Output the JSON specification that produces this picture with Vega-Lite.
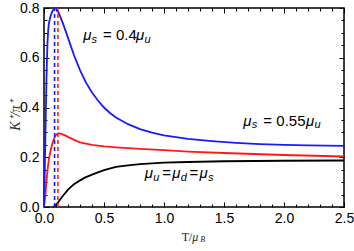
{
  "$schema": "https://vega.github.io/schema/vega-lite/v6.json",
  "width": 300,
  "height": 199,
  "autosize": "none",
  "padding": {"left": 44, "top": 8, "right": 10, "bottom": 44},
  "config": {
    "view": {"stroke": "black", "strokeWidth": 1.5},
    "axis": {
      "domain": false,
      "grid": false,
      "tickColor": "black",
      "tickWidth": 1,
      "labelFont": "Liberation Sans",
      "labelFontSize": 14,
      "labelColor": "black",
      "labelOverlap": false,
      "labelFlush": false
    }
  },
  "datasets": {
    "curves": [
      {"s": "eq", "T": 0.075, "v": 0.0}, {"s": "eq", "T": 0.09, "v": 0.004}, {"s": "eq", "T": 0.1, "v": 0.009},
      {"s": "eq", "T": 0.12, "v": 0.02}, {"s": "eq", "T": 0.15, "v": 0.04}, {"s": "eq", "T": 0.2, "v": 0.07},
      {"s": "eq", "T": 0.25, "v": 0.092}, {"s": "eq", "T": 0.3, "v": 0.107}, {"s": "eq", "T": 0.35, "v": 0.12},
      {"s": "eq", "T": 0.4, "v": 0.13}, {"s": "eq", "T": 0.5, "v": 0.148}, {"s": "eq", "T": 0.6, "v": 0.161},
      {"s": "eq", "T": 0.7, "v": 0.167}, {"s": "eq", "T": 0.8, "v": 0.172}, {"s": "eq", "T": 0.9, "v": 0.175},
      {"s": "eq", "T": 1.0, "v": 0.178}, {"s": "eq", "T": 1.2, "v": 0.181}, {"s": "eq", "T": 1.5, "v": 0.184},
      {"s": "eq", "T": 2.0, "v": 0.186}, {"s": "eq", "T": 2.5, "v": 0.187},

      {"s": "0.55", "T": 0.0, "v": 0.0}, {"s": "0.55", "T": 0.01, "v": 0.04}, {"s": "0.55", "T": 0.02, "v": 0.1},
      {"s": "0.55", "T": 0.03, "v": 0.15}, {"s": "0.55", "T": 0.04, "v": 0.19}, {"s": "0.55", "T": 0.05, "v": 0.215},
      {"s": "0.55", "T": 0.06, "v": 0.237}, {"s": "0.55", "T": 0.07, "v": 0.256}, {"s": "0.55", "T": 0.08, "v": 0.27},
      {"s": "0.55", "T": 0.09, "v": 0.281}, {"s": "0.55", "T": 0.1, "v": 0.289}, {"s": "0.55", "T": 0.11, "v": 0.294},
      {"s": "0.55", "T": 0.12, "v": 0.296}, {"s": "0.55", "T": 0.13, "v": 0.296}, {"s": "0.55", "T": 0.15, "v": 0.293},
      {"s": "0.55", "T": 0.18, "v": 0.287}, {"s": "0.55", "T": 0.2, "v": 0.282}, {"s": "0.55", "T": 0.25, "v": 0.27},
      {"s": "0.55", "T": 0.3, "v": 0.26}, {"s": "0.55", "T": 0.4, "v": 0.25}, {"s": "0.55", "T": 0.5, "v": 0.244},
      {"s": "0.55", "T": 0.6, "v": 0.24}, {"s": "0.55", "T": 0.8, "v": 0.234}, {"s": "0.55", "T": 1.0, "v": 0.229},
      {"s": "0.55", "T": 1.2, "v": 0.223}, {"s": "0.55", "T": 1.5, "v": 0.217}, {"s": "0.55", "T": 2.0, "v": 0.209},
      {"s": "0.55", "T": 2.5, "v": 0.203},

      {"s": "0.4", "T": 0.0, "v": 0.0}, {"s": "0.4", "T": 0.005, "v": 0.1}, {"s": "0.4", "T": 0.01, "v": 0.24},
      {"s": "0.4", "T": 0.015, "v": 0.38}, {"s": "0.4", "T": 0.02, "v": 0.5}, {"s": "0.4", "T": 0.025, "v": 0.6},
      {"s": "0.4", "T": 0.03, "v": 0.67}, {"s": "0.4", "T": 0.035, "v": 0.71}, {"s": "0.4", "T": 0.04, "v": 0.735},
      {"s": "0.4", "T": 0.05, "v": 0.76}, {"s": "0.4", "T": 0.06, "v": 0.775}, {"s": "0.4", "T": 0.07, "v": 0.787},
      {"s": "0.4", "T": 0.08, "v": 0.795}, {"s": "0.4", "T": 0.09, "v": 0.8}, {"s": "0.4", "T": 0.1, "v": 0.798},
      {"s": "0.4", "T": 0.11, "v": 0.792}, {"s": "0.4", "T": 0.12, "v": 0.783}, {"s": "0.4", "T": 0.14, "v": 0.76},
      {"s": "0.4", "T": 0.16, "v": 0.735}, {"s": "0.4", "T": 0.18, "v": 0.708}, {"s": "0.4", "T": 0.2, "v": 0.68},
      {"s": "0.4", "T": 0.25, "v": 0.61}, {"s": "0.4", "T": 0.3, "v": 0.55}, {"s": "0.4", "T": 0.35, "v": 0.5},
      {"s": "0.4", "T": 0.4, "v": 0.46}, {"s": "0.4", "T": 0.45, "v": 0.428}, {"s": "0.4", "T": 0.5, "v": 0.4},
      {"s": "0.4", "T": 0.55, "v": 0.378}, {"s": "0.4", "T": 0.6, "v": 0.36}, {"s": "0.4", "T": 0.7, "v": 0.333},
      {"s": "0.4", "T": 0.8, "v": 0.313}, {"s": "0.4", "T": 0.9, "v": 0.299}, {"s": "0.4", "T": 1.0, "v": 0.288},
      {"s": "0.4", "T": 1.2, "v": 0.274}, {"s": "0.4", "T": 1.4, "v": 0.265}, {"s": "0.4", "T": 1.6, "v": 0.258},
      {"s": "0.4", "T": 1.8, "v": 0.253}, {"s": "0.4", "T": 2.0, "v": 0.25}, {"s": "0.4", "T": 2.2, "v": 0.248},
      {"s": "0.4", "T": 2.5, "v": 0.246}
    ],
    "peaks": [
      {"s": "0.4", "T": 0.088},
      {"s": "0.55", "T": 0.116}
    ],
    "labels": [
      {"role": "mu", "T": 0.3275, "v": 0.6707, "text": "μ"},
      {"role": "sub", "T": 0.3958, "v": 0.661, "text": "s"},
      {"role": "plain", "T": 0.4917, "v": 0.6707, "text": "= 0.4"},
      {"role": "mu", "T": 0.7667, "v": 0.6707, "text": "μ"},
      {"role": "sub", "T": 0.8375, "v": 0.661, "text": "u"},

      {"role": "mu", "T": 1.661, "v": 0.3265, "text": "μ"},
      {"role": "sub", "T": 1.732, "v": 0.3165, "text": "s"},
      {"role": "plain", "T": 1.828, "v": 0.3265, "text": "= 0.55"},
      {"role": "mu", "T": 2.183, "v": 0.3265, "text": "μ"},
      {"role": "sub", "T": 2.254, "v": 0.3165, "text": "u"},

      {"role": "mu", "T": 0.84, "v": 0.1153, "text": "μ"},
      {"role": "sub", "T": 0.911, "v": 0.1053, "text": "u"},
      {"role": "plain", "T": 0.985, "v": 0.1153, "text": "="},
      {"role": "mu", "T": 1.068, "v": 0.1153, "text": "μ"},
      {"role": "sub", "T": 1.139, "v": 0.1053, "text": "d"},
      {"role": "plain", "T": 1.213, "v": 0.1153, "text": "="},
      {"role": "mu", "T": 1.296, "v": 0.1153, "text": "μ"},
      {"role": "sub", "T": 1.367, "v": 0.1053, "text": "s"},

      {"role": "xtitle", "T": 1.1475, "v": -0.1353, "text": "T/"},
      {"role": "xtitlemu", "T": 1.2358, "v": -0.1353, "text": "μ"},
      {"role": "xtitlesub", "T": 1.302, "v": -0.139, "text": "B"}
    ]
  },
  "layer": [
    {
      "data": {"name": "curves"},
      "mark": {"type": "line", "strokeWidth": 1.8, "clip": false},
      "encoding": {
        "x": {
          "field": "T", "type": "quantitative",
          "scale": {"domain": [0, 2.5], "nice": false, "zero": false},
          "axis": {
            "orient": "bottom",
            "title": null,
            "values": [0,0.1,0.2,0.3,0.4,0.5,0.6,0.7,0.8,0.9,1,1.1,1.2,1.3,1.4,1.5,1.6,1.7,1.8,1.9,2,2.1,2.2,2.3,2.4,2.5],
            "labelExpr": "abs(datum.value*2 - round(datum.value*2)) < 0.001 ? format(datum.value, '.1f') : ''",
            "tickSize": {"condition": {"test": "abs(datum.value*2 - round(datum.value*2)) < 0.001", "value": -5}, "value": -3},
            "labelPadding": 9
          }
        },
        "y": {
          "field": "v", "type": "quantitative",
          "scale": {"domain": [0, 0.8], "nice": false},
          "axis": {
            "orient": "left",
            "title": "K⁺/π⁺",
            "titleFont": "Liberation Serif",
            "titleFontStyle": "italic",
            "titleFontWeight": "normal",
            "titleFontSize": 14,
            "titleColor": "#333333",
            "titleAngle": 270,
            "titleAlign": "center",
            "titleBaseline": "middle",
            "titleX": -29,
            "titleY": 107,
            "values": [0,0.05,0.1,0.15,0.2,0.25,0.3,0.35,0.4,0.45,0.5,0.55,0.6,0.65,0.7,0.75,0.8],
            "labelExpr": "abs(datum.value*5 - round(datum.value*5)) < 0.001 ? format(datum.value, '.1f') : ''",
            "tickSize": {"condition": {"test": "abs(datum.value*5 - round(datum.value*5)) < 0.001", "value": -5}, "value": -3},
            "labelPadding": 10
          }
        },
        "color": {
          "field": "s", "type": "nominal",
          "scale": {"domain": ["eq", "0.55", "0.4"], "range": ["#000000", "#ff1a1a", "#1a1aff"]},
          "legend": null
        },
        "order": {"field": "T", "type": "quantitative"}
      }
    },
    {
      "data": {"name": "peaks"},
      "mark": {"type": "rule", "strokeWidth": 1.6, "strokeDash": [4, 3]},
      "encoding": {
        "x": {"field": "T", "type": "quantitative", "axis": null},
        "y": {"datum": 0, "type": "quantitative", "axis": null},
        "y2": {"datum": 0.8},
        "color": {"field": "s", "type": "nominal", "legend": null}
      }
    },
    {
      "data": {"name": "curves"},
      "mark": {"type": "point", "opacity": 0},
      "encoding": {
        "x": {
          "field": "T", "type": "quantitative",
          "axis": {
            "orient": "top", "title": null, "labels": false,
            "values": [0,0.1,0.2,0.3,0.4,0.5,0.6,0.7,0.8,0.9,1,1.1,1.2,1.3,1.4,1.5,1.6,1.7,1.8,1.9,2,2.1,2.2,2.3,2.4,2.5],
            "tickSize": {"condition": {"test": "abs(datum.value*2 - round(datum.value*2)) < 0.001", "value": -5}, "value": -3}
          }
        },
        "y": {
          "field": "v", "type": "quantitative",
          "axis": {
            "orient": "right", "title": null, "labels": false,
            "values": [0,0.05,0.1,0.15,0.2,0.25,0.3,0.35,0.4,0.45,0.5,0.55,0.6,0.65,0.7,0.75,0.8],
            "tickSize": {"condition": {"test": "abs(datum.value*5 - round(datum.value*5)) < 0.001", "value": -5}, "value": -3}
          }
        }
      }
    },
    {
      "data": {"name": "labels"},
      "transform": [{"filter": "datum.role === 'mu'"}],
      "mark": {"type": "text", "align": "left", "baseline": "alphabetic", "font": "Liberation Sans", "fontStyle": "italic", "fontSize": 15, "color": "black"},
      "encoding": {
        "x": {"field": "T", "type": "quantitative", "axis": null},
        "y": {"field": "v", "type": "quantitative", "axis": null},
        "text": {"field": "text"}
      }
    },
    {
      "data": {"name": "labels"},
      "transform": [{"filter": "datum.role === 'sub'"}],
      "mark": {"type": "text", "align": "left", "baseline": "alphabetic", "font": "Liberation Sans", "fontStyle": "italic", "fontSize": 11, "color": "black"},
      "encoding": {
        "x": {"field": "T", "type": "quantitative", "axis": null},
        "y": {"field": "v", "type": "quantitative", "axis": null},
        "text": {"field": "text"}
      }
    },
    {
      "data": {"name": "labels"},
      "transform": [{"filter": "datum.role === 'plain'"}],
      "mark": {"type": "text", "align": "left", "baseline": "alphabetic", "font": "Liberation Sans", "fontSize": 15, "color": "black"},
      "encoding": {
        "x": {"field": "T", "type": "quantitative", "axis": null},
        "y": {"field": "v", "type": "quantitative", "axis": null},
        "text": {"field": "text"}
      }
    },
    {
      "data": {"name": "labels"},
      "transform": [{"filter": "datum.role === 'xtitle'"}],
      "mark": {"type": "text", "align": "left", "baseline": "alphabetic", "font": "Liberation Serif", "fontSize": 12, "color": "#222222"},
      "encoding": {
        "x": {"field": "T", "type": "quantitative", "axis": null},
        "y": {"field": "v", "type": "quantitative", "axis": null},
        "text": {"field": "text"}
      }
    },
    {
      "data": {"name": "labels"},
      "transform": [{"filter": "datum.role === 'xtitlemu'"}],
      "mark": {"type": "text", "align": "left", "baseline": "alphabetic", "font": "Liberation Serif", "fontStyle": "italic", "fontSize": 12, "color": "#222222"},
      "encoding": {
        "x": {"field": "T", "type": "quantitative", "axis": null},
        "y": {"field": "v", "type": "quantitative", "axis": null},
        "text": {"field": "text"}
      }
    },
    {
      "data": {"name": "labels"},
      "transform": [{"filter": "datum.role === 'xtitlesub'"}],
      "mark": {"type": "text", "align": "left", "baseline": "alphabetic", "font": "Liberation Serif", "fontStyle": "italic", "fontSize": 8, "color": "#222222"},
      "encoding": {
        "x": {"field": "T", "type": "quantitative", "axis": null},
        "y": {"field": "v", "type": "quantitative", "axis": null},
        "text": {"field": "text"}
      }
    }
  ],
  "resolve": {"axis": {"x": "independent", "y": "independent"}}
}
